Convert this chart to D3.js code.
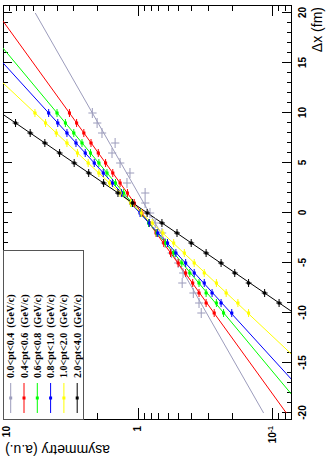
<!DOCTYPE html>
<html>
<head>
<meta charset="utf-8">
<script src="https://cdn.jsdelivr.net/npm/d3@7"></script>
<style>
  body { margin: 0; background: #fff; }
  text { font-family: "Liberation Sans", Arial, sans-serif; }
</style>
</head>
<body>
<div id="chart"></div>
<script>
// Δx bins (fm) shared by every pt selection
var dx = [10, 9, 8, 7, 6, 5, 4, 3, 2, 1, 0, -1, -2, -3, -4, -5, -6, -7, -8, -9, -10];

var ptBins = ['0.0<pt<0.4', '0.4<pt<0.6', '0.6<pt<0.8', '0.8<pt<1.0', '1.0<pt<2.0', '2.0<pt<4.0'];
var colors = ['#9c9cbc', '#ff0000', '#00ff00', '#0000ff', '#ffff00', '#000000'];

// asymmetry (a.u.) per Δx bin, one array per pt bin
var asymPt0 = [2.17, 2.00, 1.84, 1.47, 1.55, 1.35, 1.14, 1.20, 0.88, 0.88, 0.81, 0.74, 0.66, 0.625, 0.56, 0.50, 0.46, 0.467, 0.386, 0.35, 0.337];
var asymPt1 = [3.21, 2.84, 2.51, 2.22, 1.96, 1.73, 1.53, 1.35, 1.19, 1.06, 0.93, 0.82, 0.73, 0.64, 0.57, 0.50, 0.44, 0.39, 0.35, 0.31, 0.27];
var asymPt2 = [3.97, 3.44, 2.98, 2.59, 2.24, 1.94, 1.69, 1.46, 1.27, 1.10, 0.95, 0.83, 0.72, 0.62, 0.54, 0.47, 0.41, 0.35, 0.31, 0.26, 0.23];
var asymPt3 = [4.58, 3.92, 3.35, 2.87, 2.45, 2.10, 1.80, 1.54, 1.32, 1.13, 0.96, 0.82, 0.71, 0.60, 0.52, 0.44, 0.38, 0.32, 0.28, 0.24, 0.20];
var asymPt4 = [5.79, 4.83, 4.02, 3.35, 2.80, 2.33, 1.94, 1.62, 1.35, 1.13, 0.94, 0.78, 0.65, 0.54, 0.45, 0.38, 0.32, 0.26, 0.22, 0.18, 0.15];
var asymPt5 = [10.4, 8.07, 6.28, 4.89, 3.80, 2.96, 2.31, 1.79, 1.40, 1.09, 0.85, 0.66, 0.51, 0.40, 0.31, 0.24, 0.19, 0.15, 0.114, 0.089, 0.069];

// error bars: half width in Δx (fm) and relative error on asymmetry
var dxErr = [0.5, 0.4, 0.4, 0.4, 0.4, 0.4];
var asymErr = [0.07, 0.025, 0.025, 0.025, 0.025, 0.05];

// exponential fits: log10(asym) = fitConst + fitSlope * dx, drawn over fitRange
var fitConst = [-0.0877, -0.0305, -0.0208, -0.0164, -0.0275, -0.0725];
var fitSlope = [0.0424, 0.0537, 0.0619, 0.0677, 0.0790, 0.1088];
var fitRange = [-20, 20];

// axis ticks
var dxMajor = [-20, -15, -10, -5, 0, 5, 10, 15, 20];
var dxMinor = d3.range(-20, 21);
var asymMajor = [10, 1, 0.1];
var asymMinor = [9, 8, 7, 6, 5, 4, 3, 2, 0.9, 0.8, 0.7, 0.6, 0.5, 0.4, 0.3, 0.2, 0.09, 0.08];

var W = 327, H = 460;
var allAsym = [asymPt0, asymPt1, asymPt2, asymPt3, asymPt4, asymPt5];

var svg = d3.select('#chart').append('svg')
  .attr('width', W)
  .attr('height', H);

// the whole pad is drawn turned a quarter turn (Δx runs along the page height)
var g = svg.append('g').attr('transform', 'translate(0,' + H + ') rotate(-90)');

var frame = {left: 41, right: 455, top: 3, bottom: 291};

var x = d3.scaleLinear().domain([-20.6, 20.8]).range([frame.left, frame.right]);
var y = d3.scaleLog().domain([10, 0.0726]).range([frame.top, frame.bottom]);

g.append('clipPath').attr('id', 'clip')
  .append('rect')
  .attr('x', frame.left).attr('y', frame.top)
  .attr('width', frame.right - frame.left).attr('height', frame.bottom - frame.top);

// ---- axes
function tidy(sel) {
  sel.select('.domain').remove();
  sel.selectAll('line').attr('stroke', '#000').attr('shape-rendering', 'crispEdges');
  sel.selectAll('text')
    .attr('fill', '#000')
    .style('font-size', '10px')
    .style('font-weight', 'bold');
}

g.append('g').attr('transform', 'translate(0,' + frame.bottom + ')')
  .call(d3.axisBottom(x).tickValues(dxMinor).tickSizeInner(-4.5).tickSizeOuter(0).tickFormat(''))
  .call(tidy);
g.append('g').attr('transform', 'translate(0,' + frame.bottom + ')')
  .call(d3.axisBottom(x).tickValues(dxMajor).tickSizeInner(-9).tickSizeOuter(0).tickPadding(8)
    .tickFormat(function(d) { return String(d); }))
  .call(tidy);
g.append('g').attr('transform', 'translate(0,' + frame.top + ')')
  .call(d3.axisTop(x).tickValues(dxMinor).tickSizeInner(-4.5).tickSizeOuter(0).tickFormat(''))
  .call(tidy);
g.append('g').attr('transform', 'translate(0,' + frame.top + ')')
  .call(d3.axisTop(x).tickValues(dxMajor).tickSizeInner(-9).tickSizeOuter(0).tickFormat(''))
  .call(tidy);

g.append('g').attr('transform', 'translate(' + frame.left + ',0)')
  .call(d3.axisLeft(y).tickValues(asymMinor).tickSizeInner(-6).tickSizeOuter(0).tickFormat(''))
  .call(tidy);
var yAxis = g.append('g').attr('transform', 'translate(' + frame.left + ',0)')
  .call(d3.axisLeft(y).tickValues(asymMajor).tickSizeInner(-11).tickSizeOuter(0).tickPadding(7)
    .tickFormat(function(d) { return d >= 1 ? String(d) : '10'; }))
  .call(tidy);
// superscript on 10^-1, and keep the top label inside the pad
yAxis.selectAll('.tick').filter(function(d) { return d < 1; }).select('text')
  .append('tspan').attr('dy', '-0.45em').style('font-size', '7px').text('-1');
yAxis.selectAll('.tick').filter(function(d) { return d === 10; }).select('text')
  .attr('y', 3.5);

g.append('g').attr('transform', 'translate(' + frame.right + ',0)')
  .call(d3.axisRight(y).tickValues(asymMinor).tickSizeInner(-6).tickSizeOuter(0).tickFormat(''))
  .call(tidy);
g.append('g').attr('transform', 'translate(' + frame.right + ',0)')
  .call(d3.axisRight(y).tickValues(asymMajor).tickSizeInner(-11).tickSizeOuter(0).tickFormat(''))
  .call(tidy);

g.append('rect')
  .attr('x', frame.left).attr('y', frame.top)
  .attr('width', frame.right - frame.left).attr('height', frame.bottom - frame.top)
  .attr('fill', 'none').attr('stroke', '#000').attr('shape-rendering', 'crispEdges');

// axis titles
g.append('text')
  .attr('x', 453).attr('y', 322)
  .attr('text-anchor', 'end')
  .style('font-size', '14px')
  .text('\u0394x (fm)');
g.append('text')
  .attr('transform', 'translate(15,5) rotate(-90)')
  .attr('text-anchor', 'end')
  .style('font-size', '14px')
  .text('asymmetry (a.u.)');

// ---- fits and points
var plot = g.append('g').attr('clip-path', 'url(#clip)');

var line = d3.line()
  .x(function(d) { return x(d[0]); })
  .y(function(d) { return y(d[1]); });

ptBins.forEach(function(name, k) {
  var fit = fitRange.map(function(v) { return [v, Math.pow(10, fitConst[k] + fitSlope[k] * v)]; });
  plot.append('path')
    .datum(fit)
    .attr('d', line)
    .attr('fill', 'none')
    .attr('stroke', colors[k])
    .attr('stroke-width', 1);
});

ptBins.forEach(function(name, k) {
  var pts = dx.map(function(v, i) { return {dx: v, a: allAsym[k][i]}; });
  var s = plot.append('g').attr('class', 'series s' + k);
  var p = s.selectAll('.pt').data(pts).enter().append('g').attr('class', 'pt');
  p.append('line')
    .attr('x1', function(d) { return x(d.dx - dxErr[k]); })
    .attr('x2', function(d) { return x(d.dx + dxErr[k]); })
    .attr('y1', function(d) { return y(d.a); })
    .attr('y2', function(d) { return y(d.a); })
    .attr('stroke', colors[k]);
  p.append('line')
    .attr('x1', function(d) { return x(d.dx); })
    .attr('x2', function(d) { return x(d.dx); })
    .attr('y1', function(d) { return y(d.a * (1 + asymErr[k])); })
    .attr('y2', function(d) { return y(d.a * (1 - asymErr[k])); })
    .attr('stroke', colors[k]);
  if (k > 0) {
    p.append('rect')
      .attr('x', function(d) { return x(d.dx) - 1.5; })
      .attr('y', function(d) { return y(d.a) - 1.5; })
      .attr('width', 3).attr('height', 3)
      .attr('fill', colors[k]);
  }
});

// ---- legend
var legend = g.append('g').attr('class', 'legend');
legend.append('rect')
  .attr('x', 41).attr('y', 3).attr('width', 169).attr('height', 80)
  .attr('fill', '#fff').attr('stroke', '#555').attr('shape-rendering', 'crispEdges');

var entry = legend.selectAll('.entry').data(ptBins).enter().append('g')
  .attr('class', 'entry')
  .attr('transform', function(d, i) { return 'translate(0,' + (10.7 + i * 13.3) + ')'; });
entry.append('line')
  .attr('x1', 47).attr('x2', 77).attr('y1', 0).attr('y2', 0)
  .attr('stroke', function(d, i) { return colors[i]; });
entry.append('rect')
  .attr('x', 60.5).attr('y', -1.5).attr('width', 3).attr('height', 3)
  .attr('fill', function(d, i) { return colors[i]; });
entry.append('text')
  .attr('x', 82).attr('y', 0).attr('dy', '0.35em')
  .style('font-family', '"Liberation Serif", "Times New Roman", serif')
  .style('font-size', '10px')
  .style('font-weight', 'bold')
  .text(function(d) { return d + '\u00a0\u00a0(GeV/c)'; });
</script>
</body>
</html>
